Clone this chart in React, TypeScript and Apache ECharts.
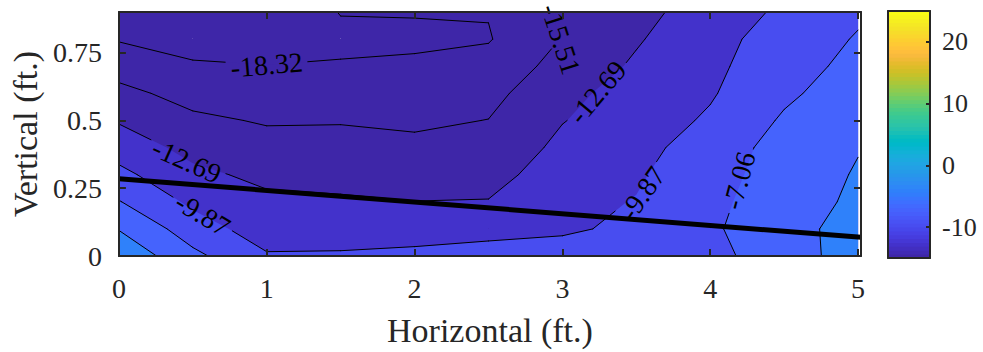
import React, { useEffect, useRef } from "react";
import * as echarts from "echarts";

// ---------- data ----------
// grid of measured values (rows follow yGrid, columns follow xGrid)
const xGrid = [0, 0.5, 1, 1.5, 2, 2.5, 3, 3.5, 4, 4.5, 5];
const yGrid = [0, 0.1, 0.2, 0.3, 0.4, 0.5, 0.6, 0.7, 0.8, 0.9];
const zRows = [
  [-2.0, -6.4, -9.6, -9.6, -9.3, -9.0, -8.9, -8.5, -7.9, -5.5, -3.0],
  [-4.37, -8.5, -11.3, -10.98, -10.95, -10.57, -10.2, -9.4, -7.5, -5.08, -3.33],
  [-6.93, -10.46, -12.12, -12.37, -12.66, -12.59, -10.69, -9.75, -7.66, -5.72, -3.66],
  [-9.15, -12.06, -13.35, -13.52, -13.8, -13.58, -11.39, -10.22, -8.01, -5.94, -3.99],
  [-11.1, -13.56, -14.54, -14.59, -14.91, -14.52, -12.08, -10.8, -8.47, -6.09, -4.38],
  [-12.93, -14.99, -15.75, -15.68, -15.97, -15.46, -12.79, -11.25, -9.51, -6.72, -5.0],
  [-14.77, -16.47, -17.01, -16.88, -16.98, -16.4, -13.26, -11.84, -10.13, -7.56, -5.61],
  [-16.64, -17.98, -18.26, -18.08, -17.99, -17.34, -14.54, -12.3, -10.45, -8.28, -6.23],
  [-18.51, -19.48, -19.52, -19.0, -18.7, -18.5, -15.4, -12.95, -10.74, -8.72, -6.84],
  [-20.39, -20.8, -20.78, -18.2, -18.21, -18.2, -15.07, -13.45, -11.51, -9.35, -7.5],
];
const contourLevels = [-21.14, -18.32, -15.51, -12.69, -9.87, -7.06, -4.24, -1.42];

// contour labels: level, anchor (data coords), text angle in degrees (counter-clockwise)
const labelLevels = [-18.32, -15.51, -12.69, -12.69, -9.87, -9.87, -7.06];
const labelX = [1.0, 2.99, 3.238, 0.458, 0.566, 3.54, 4.195];
const labelY = [0.705, 0.8, 0.604, 0.351, 0.154, 0.231, 0.278];
const labelAngles = [5, -72, 50, -24, -31, 55, 75];

// thick boundary line
const boundaryX = [0, 5.02];
const boundaryY = [0.285, 0.069];

const colorLimits = [-15, 25];
const colorbarTicks = [-10, 0, 10, 20];
const xTicks = [0, 1, 2, 3, 4, 5];
const yTicks = [0, 0.25, 0.5, 0.75];

const parula = [
  "#3e26a8", "#402ab4", "#422ec0", "#4332cb", "#4537d5", "#463cde", "#4741e5", "#4747eb",
  "#484df0", "#4852f4", "#4758f8", "#465efb", "#4563fd", "#4269fe", "#3e6fff", "#3875fe",
  "#327cfc", "#2f81fa", "#2e87f7", "#2d8cf3", "#2b91ef", "#2796eb", "#259be8", "#23a0e5",
  "#20a5e3", "#1ca9df", "#18addb", "#12b1d6", "#08b5d0", "#01b8ca", "#02bac3", "#0bbdbd",
  "#19bfb6", "#24c1ae", "#2cc4a7", "#31c69f", "#37c897", "#3fca8e", "#4acb84", "#57cc7a",
  "#64cd6f", "#72cd64", "#81cc59", "#8fcb4e", "#9dc943", "#abc739", "#b9c431", "#c5c22a",
  "#d1bf27", "#dcbd29", "#e6bb2d", "#f0ba36", "#f8ba3d", "#febe3c", "#fec338", "#fec934",
  "#fccf30", "#fad62d", "#f7dc2a", "#f5e327", "#f5e924", "#f6ef20", "#f7f51b", "#f9fb15",
];

// ---------- helpers ----------
type Pt = [number, number];
const SERIF = "Liberation Serif";
const AXIS_COLOR = "#262626";
const LABEL_FONT_SIZE = 28;
const LABEL_FONT = `${LABEL_FONT_SIZE}px "Liberation Serif"`;

function levelColor(L: number): string {
  const [lo, hi] = colorLimits;
  const n = parula.length;
  let idx = Math.floor(((L - lo) / (hi - lo)) * n);
  idx = Math.max(0, Math.min(n - 1, idx));
  return parula[idx];
}

function edgePoint(i0: number, j0: number, i1: number, j1: number, L: number): Pt {
  const za = zRows[j0][i0];
  const zb = zRows[j1][i1];
  const t = (L - za) / (zb - za);
  return [xGrid[i0] + t * (xGrid[i1] - xGrid[i0]), yGrid[j0] + t * (yGrid[j1] - yGrid[j0])];
}

function contourLevel(L: number) {
  const polys: Pt[][] = [];
  const segs: [Pt, Pt][] = [];
  for (let j = 0; j < yGrid.length - 1; j++) {
    for (let i = 0; i < xGrid.length - 1; i++) {
      const corners: [number, number][] = [
        [i, j],
        [i + 1, j],
        [i + 1, j + 1],
        [i, j + 1],
      ];
      const inside = corners.map(([a, b]) => zRows[b][a] >= L);
      const poly: Pt[] = [];
      const crossings: { p: Pt; exit: boolean }[] = [];
      for (let k = 0; k < 4; k++) {
        const [a0, b0] = corners[k];
        const [a1, b1] = corners[(k + 1) % 4];
        if (inside[k]) poly.push([xGrid[a0], yGrid[b0]]);
        if (inside[k] !== inside[(k + 1) % 4]) {
          const p = edgePoint(a0, b0, a1, b1, L);
          poly.push(p);
          crossings.push({ p, exit: inside[k] });
        }
      }
      if (poly.length >= 3) polys.push(poly);
      for (let c = 0; c < crossings.length; c++) {
        if (crossings[c].exit) segs.push([crossings[c].p, crossings[(c + 1) % crossings.length].p]);
      }
    }
  }
  return { polys, segs };
}

const contourData = contourLevels.map((L) => contourLevel(L));

let measureCtx: CanvasRenderingContext2D | null = null;
function textWidth(s: string, font: string): number {
  if (!measureCtx) measureCtx = document.createElement("canvas").getContext("2d");
  if (!measureCtx) return s.length * 14;
  measureCtx.font = font;
  return measureCtx.measureText(s).width;
}

type Box = { cx: number; cy: number; dx: number; dy: number; hw: number; hh: number };

function clipInterval(a: number[], b: number[], bx: Box): [number, number] | null {
  const u0 = (a[0] - bx.cx) * bx.dx + (a[1] - bx.cy) * bx.dy;
  const v0 = -(a[0] - bx.cx) * bx.dy + (a[1] - bx.cy) * bx.dx;
  const u1 = (b[0] - bx.cx) * bx.dx + (b[1] - bx.cy) * bx.dy;
  const v1 = -(b[0] - bx.cx) * bx.dy + (b[1] - bx.cy) * bx.dx;
  const du = u1 - u0;
  const dv = v1 - v0;
  let t0 = 0;
  let t1 = 1;
  const checks: [number, number][] = [
    [-du, u0 + bx.hw],
    [du, bx.hw - u0],
    [-dv, v0 + bx.hh],
    [dv, bx.hh - v0],
  ];
  for (const [p, q] of checks) {
    if (Math.abs(p) < 1e-12) {
      if (q < 0) return null;
      continue;
    }
    const r = q / p;
    if (p < 0) {
      if (r > t0) t0 = r;
    } else if (r < t1) t1 = r;
    if (t0 > t1) return null;
  }
  return [t0, t1];
}

function buildOption(): any {
  const fillSeries = {
    type: "custom",
    coordinateSystem: "cartesian2d",
    xAxisIndex: 0,
    yAxisIndex: 0,
    z: 1,
    silent: true,
    data: contourLevels.map((_, k) => [0, 0, k]),
    renderItem: (params: any, api: any) => {
      const k = api.value(2) as number;
      const polys = contourData[k].polys;
      if (!polys.length) return null;
      let d = "";
      for (const poly of polys) {
        poly.forEach((p, idx) => {
          const c = api.coord(p);
          d += (idx ? "L" : "M") + c[0].toFixed(2) + " " + c[1].toFixed(2);
        });
        d += "Z";
      }
      return {
        type: "path",
        shape: { pathData: d },
        style: { fill: levelColor(contourLevels[k]), stroke: "none" },
      };
    },
  };

  const lineSeries = {
    type: "custom",
    coordinateSystem: "cartesian2d",
    xAxisIndex: 0,
    yAxisIndex: 0,
    z: 2,
    silent: true,
    data: contourLevels.map((_, k) => [0, 0, k]),
    renderItem: (params: any, api: any) => {
      const k = api.value(2) as number;
      const L = contourLevels[k];
      const boxes: Box[] = [];
      labelLevels.forEach((lv, li) => {
        if (lv !== L) return;
        const c = api.coord([labelX[li], labelY[li]]);
        const a = (labelAngles[li] * Math.PI) / 180;
        const w = textWidth(lv.toFixed(2), LABEL_FONT);
        boxes.push({ cx: c[0], cy: c[1], dx: Math.cos(a), dy: -Math.sin(a), hw: w / 2 + 5, hh: 12 });
      });
      let d = "";
      for (const [p, q] of contourData[k].segs) {
        const a = api.coord(p);
        const b = api.coord(q);
        let pieces: [number, number][] = [[0, 1]];
        for (const bx of boxes) {
          const hit = clipInterval(a, b, bx);
          if (!hit) continue;
          const next: [number, number][] = [];
          for (const [s, e] of pieces) {
            if (hit[1] <= s || hit[0] >= e) {
              next.push([s, e]);
              continue;
            }
            if (hit[0] > s) next.push([s, hit[0]]);
            if (hit[1] < e) next.push([hit[1], e]);
          }
          pieces = next;
        }
        for (const [s, e] of pieces) {
          if (e - s < 1e-6) continue;
          const sx = a[0] + s * (b[0] - a[0]);
          const sy = a[1] + s * (b[1] - a[1]);
          const ex = a[0] + e * (b[0] - a[0]);
          const ey = a[1] + e * (b[1] - a[1]);
          d += `M${sx.toFixed(2)} ${sy.toFixed(2)}L${ex.toFixed(2)} ${ey.toFixed(2)}`;
        }
      }
      if (!d) return null;
      return {
        type: "path",
        shape: { pathData: d },
        style: { fill: "none", stroke: "#000", lineWidth: 1, lineCap: "round" },
      };
    },
  };

  const labelSeries = {
    type: "custom",
    coordinateSystem: "cartesian2d",
    xAxisIndex: 0,
    yAxisIndex: 0,
    z: 3,
    silent: true,
    data: labelLevels.map((_, i) => [labelX[i], labelY[i]]),
    renderItem: (params: any, api: any) => {
      const i = params.dataIndex;
      const c = api.coord([api.value(0), api.value(1)]);
      return {
        type: "text",
        x: c[0],
        y: c[1],
        rotation: (labelAngles[i] * Math.PI) / 180,
        style: {
          text: labelLevels[i].toFixed(2),
          fill: "#000",
          font: LABEL_FONT,
          fontSize: LABEL_FONT_SIZE,
          fontFamily: SERIF,
          align: "center",
          verticalAlign: "middle",
        },
      };
    },
  };

  const boundarySeries = {
    type: "line",
    xAxisIndex: 0,
    yAxisIndex: 0,
    z: 5,
    silent: true,
    symbol: "none",
    data: boundaryX.map((x, i) => [x, boundaryY[i]]),
    lineStyle: { color: "#000", width: 5 },
  };

  const step = (colorLimits[1] - colorLimits[0]) / parula.length;
  const colorbarSeries = {
    type: "custom",
    coordinateSystem: "cartesian2d",
    xAxisIndex: 2,
    yAxisIndex: 3,
    z: 1,
    silent: true,
    data: parula.map((_, i) => [0, colorLimits[0] + i * step]),
    renderItem: (params: any, api: any) => {
      const v0 = api.value(1) as number;
      const p0 = api.coord([0, v0]);
      const p1 = api.coord([1, v0 + step]);
      return {
        type: "rect",
        shape: { x: p0[0], y: p1[1] - 0.4, width: p1[0] - p0[0], height: p0[1] - p1[1] + 0.8 },
        style: { fill: parula[params.dataIndex], stroke: "none" },
      };
    },
  };

  const lineStyle = { color: AXIS_COLOR, width: 2 };
  const tickFont = { fontSize: 28, color: AXIS_COLOR, fontFamily: SERIF };

  return {
    animation: false,
    backgroundColor: "#ffffff",
    textStyle: { fontFamily: SERIF },
    grid: [
      { left: 117, right: 122, top: 12, bottom: 94 },
      { left: 888, width: 42, top: 11, height: 247 },
    ],
    xAxis: [
      {
        gridIndex: 0,
        type: "value",
        min: 0,
        max: 5.02,
        interval: 1,
        position: "bottom",
        z: 10,
        axisLine: { show: true, onZero: false, lineStyle },
        axisTick: { show: true, inside: true, length: 7, lineStyle, customValues: xTicks },
        axisLabel: { show: true, customValues: xTicks, margin: 18, ...tickFont },
        splitLine: { show: false },
        name: "Horizontal (ft.)",
        nameLocation: "middle",
        nameGap: 57,
        nameTextStyle: { fontSize: 34, color: AXIS_COLOR, fontFamily: SERIF },
      },
      {
        gridIndex: 0,
        type: "value",
        min: 0,
        max: 5.02,
        interval: 1,
        position: "top",
        z: 10,
        axisLine: { show: true, onZero: false, lineStyle },
        axisTick: { show: true, inside: true, length: 7, lineStyle, customValues: xTicks },
        axisLabel: { show: false },
        splitLine: { show: false },
      },
      {
        gridIndex: 1,
        type: "value",
        min: 0,
        max: 1,
        position: "bottom",
        z: 10,
        axisLine: { show: true, onZero: false, lineStyle },
        axisTick: { show: false },
        axisLabel: { show: false },
        splitLine: { show: false },
      },
      {
        gridIndex: 1,
        type: "value",
        min: 0,
        max: 1,
        position: "top",
        z: 10,
        axisLine: { show: true, onZero: false, lineStyle },
        axisTick: { show: false },
        axisLabel: { show: false },
        splitLine: { show: false },
      },
    ],
    yAxis: [
      {
        gridIndex: 0,
        type: "value",
        min: 0,
        max: 0.9,
        interval: 0.25,
        position: "left",
        z: 10,
        axisLine: { show: true, onZero: false, lineStyle },
        axisTick: { show: true, inside: true, length: 7, lineStyle, customValues: yTicks },
        axisLabel: { show: true, customValues: yTicks, margin: 17, ...tickFont },
        splitLine: { show: false },
        name: "Vertical (ft.)",
        nameLocation: "middle",
        nameGap: 74,
        nameRotate: 90,
        nameTextStyle: { fontSize: 34, color: AXIS_COLOR, fontFamily: SERIF },
      },
      {
        gridIndex: 0,
        type: "value",
        min: 0,
        max: 0.9,
        interval: 0.25,
        position: "right",
        z: 10,
        axisLine: { show: true, onZero: false, lineStyle },
        axisTick: { show: true, inside: true, length: 7, lineStyle, customValues: yTicks },
        axisLabel: { show: false },
        splitLine: { show: false },
      },
      {
        gridIndex: 1,
        type: "value",
        min: colorLimits[0],
        max: colorLimits[1],
        interval: 5,
        position: "left",
        z: 10,
        axisLine: { show: true, onZero: false, lineStyle },
        axisTick: { show: false },
        axisLabel: { show: false },
        splitLine: { show: false },
      },
      {
        gridIndex: 1,
        type: "value",
        min: colorLimits[0],
        max: colorLimits[1],
        interval: 5,
        position: "right",
        z: 10,
        axisLine: { show: true, onZero: false, lineStyle },
        axisTick: { show: true, inside: true, length: 4, lineStyle, customValues: colorbarTicks },
        axisLabel: {
          show: true,
          customValues: colorbarTicks,
          margin: 12,
          fontSize: 26,
          color: AXIS_COLOR,
          fontFamily: SERIF,
        },
        splitLine: { show: false },
      },
    ],
    series: [fillSeries, lineSeries, labelSeries, boundarySeries, colorbarSeries],
  };
}

export default function App() {
  const ref = useRef<HTMLDivElement>(null);
  useEffect(() => {
    document.body.style.margin = "0";
    if (!ref.current) return;
    const chart = echarts.init(ref.current, undefined, { renderer: "svg" });
    chart.setOption(buildOption());
    return () => {
      chart.dispose();
    };
  }, []);
  return (
    <div
      ref={ref}
      style={{ position: "absolute", left: 0, top: 0, width: 983, height: 352, background: "#fff" }}
    />
  );
}
